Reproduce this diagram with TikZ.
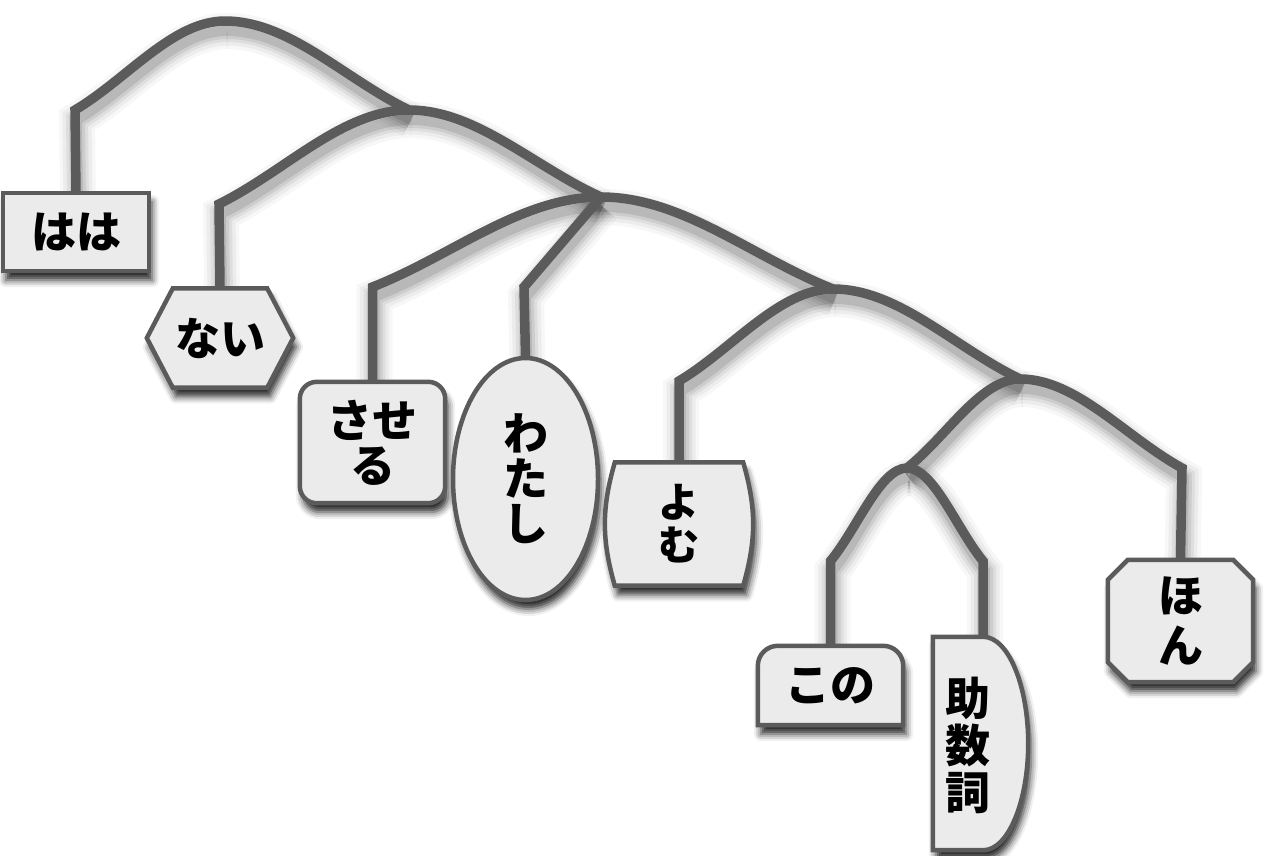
\documentclass[tikz,border=0pt]{standalone}
\usepackage{fontspec}
\IfFontExistsTF{Noto Sans CJK JP Black}
  {\newfontfamily\jp{Noto Sans CJK JP Black}\newcommand\jpw{\jp}}
  {\newfontfamily\jp{Noto Sans CJK JP}[BoldFeatures={FakeBold=1.2}]\newcommand\jpw{\jp\bfseries}}
\usetikzlibrary{calc,shadows.blur}
\definecolor{lc}{HTML}{5B5B5B}
\definecolor{bf}{HTML}{EBEBEB}
\pgfdeclarelayer{bg}
\pgfsetlayers{bg,main}
\tikzset{
  conn/.style={draw=lc, line width=9.5pt},
  boxshape/.style={draw=lc, line width=4.5pt, fill=bf,
    blur shadow={shadow xshift=3pt, shadow yshift=-9pt, shadow blur radius=7pt, shadow opacity=85}},
  word/.style={font=\jpw\fontsize{45}{#1}\selectfont, align=center, inner sep=0pt, text=black},
  word/.default=45,
}
\newcommand\treebranch[3]{\path[conn] (#1) -- (#2) .. controls ($(#2)!0.35!(#3)$) and ($(#3)!0.35!(#3 -| #2)$) .. (#3);}
\newcommand\treeedge[2]{\path[conn] (#2) .. controls ($(#2)!0.35!(#1)$) and ($(#1)!0.35!(#1 -| #2)$) .. (#1);}
\newcommand\allconnectors{%
  \treebranch{haha.north}{c1}{R}
  \treeedge{R}{J1}
  \treebranch{nai.north}{c2}{J1}
  \treeedge{J1}{J2}
  \treebranch{saseru.north}{c3}{J2}
  \path[conn] (watashi.north) -- (c4) -- (J2);
  \treeedge{J2}{J3}
  \treebranch{yomu.north}{c5}{J3}
  \treeedge{J3}{J4}
  \treebranch{hon.north}{c8}{J4}
  \treeedge{J4}{J5}
  \treebranch{kono.north}{c6}{J5}
  \treebranch{jos.north -| c7}{c7}{J5}
}
\begin{document}
\begin{tikzpicture}[x=1pt, y=-1pt]
\useasboundingbox (0,0) rectangle (1279,855);
% text nodes with box geometry
\node[word, minimum width=146pt, minimum height=78pt] (haha) at (76,232) {はは};
\node[word, minimum width=146pt, minimum height=99pt] (nai) at (220,338) {ない};
\node[word, minimum width=145pt, minimum height=121pt] (saseru) at (372.5,442.5) {させ\\る};
\node[word, minimum width=145pt, minimum height=242pt] (watashi) at (525.5,479) {わ\\た\\し};
\node[word, font=\jpw\fontsize{41}{43}\selectfont, minimum width=128pt, minimum height=123pt] (yomu) at (679,524) {よ\\む};
\node[word, minimum width=145pt, minimum height=79pt] (kono) at (830.5,685.5) {この};
\node[inner sep=0pt, minimum width=95pt, minimum height=213pt] (jos) at (980.5,743.5) {};
\node[word=47] (jostxt) at (968,745) {助\\数\\詞};
\node[word=50, minimum width=145pt, minimum height=122pt] (hon) at (1180.5,621) {ほ\\ん};
% junctions and corners
\coordinate (R) at (225,21);
\coordinate (J1) at (409,110);
\coordinate (J2) at (601,197);
\coordinate (J3) at (833,289);
\coordinate (J4) at (1020,379);
\coordinate (J5) at (907,468);
\coordinate (c1) at (75,110);
\coordinate (c2) at (219,204);
\coordinate (c3) at (372.5,287);
\coordinate (c4) at (524,287);
\coordinate (c5) at (679,381);
\coordinate (c6) at (830.5,561);
\coordinate (c7) at (983,561);
\coordinate (c8) at (1182,468);
\begin{pgfonlayer}{bg}
  \begin{scope}[transform canvas={shift={(2pt,-10pt)}}]
    \tikzset{conn/.style={draw=black, line width=36pt, opacity=0.03}}\allconnectors
    \tikzset{conn/.style={draw=black, line width=29pt, opacity=0.045}}\allconnectors
    \tikzset{conn/.style={draw=black, line width=22pt, opacity=0.06}}\allconnectors
    \tikzset{conn/.style={draw=black, line width=16pt, opacity=0.08}}\allconnectors
    \tikzset{conn/.style={draw=black, line width=10pt, opacity=0.10}}\allconnectors
  \end{scope}
  \allconnectors
  % outlines
  \path[boxshape] (haha.north west) rectangle (haha.south east);
  \path[boxshape] (nai.west) -- ([xshift=26pt]nai.north west) -- ([xshift=-26pt]nai.north east) -- (nai.east)
     -- ([xshift=-26pt]nai.south east) -- ([xshift=26pt]nai.south west) -- cycle;
  \path[boxshape, rounded corners=17pt] (saseru.north west) rectangle (saseru.south east);
  \path[boxshape] (watashi.center) ellipse [x radius=72.5pt, y radius=121pt];
  \path[boxshape] (yomu.north west) -- (yomu.north east) to[bend left=16] (yomu.south east)
     -- (yomu.south west) to[bend left=16] (yomu.north west) -- cycle;
  \path[boxshape] (kono.south west) -- ([yshift=-20pt]kono.north west)
     .. controls ([yshift=-9pt]kono.north west) and ([xshift=9pt]kono.north west) .. ([xshift=20pt]kono.north west)
     -- ([xshift=-20pt]kono.north east)
     .. controls ([xshift=-9pt]kono.north east) and ([yshift=-9pt]kono.north east) .. ([yshift=-20pt]kono.north east)
     -- (kono.south east) -- cycle;
  \path[boxshape] (jos.north west) -- ([xshift=-45pt]jos.north east)
     .. controls ([xshift=-20pt]jos.north east) and ([yshift=58pt]jos.east) .. (jos.east)
     .. controls ([yshift=-58pt]jos.east) and ([xshift=-20pt]jos.south east) .. ([xshift=-45pt]jos.south east)
     -- (jos.south west) -- cycle;
  \path[boxshape] ([xshift=20pt]hon.north west) -- ([xshift=-20pt]hon.north east) -- ([yshift=-20pt]hon.north east)
     -- ([yshift=20pt]hon.south east) -- ([xshift=-20pt]hon.south east) -- ([xshift=20pt]hon.south west)
     -- ([yshift=20pt]hon.south west) -- ([yshift=-20pt]hon.north west) -- cycle;
\end{pgfonlayer}
\end{tikzpicture}
\end{document}
